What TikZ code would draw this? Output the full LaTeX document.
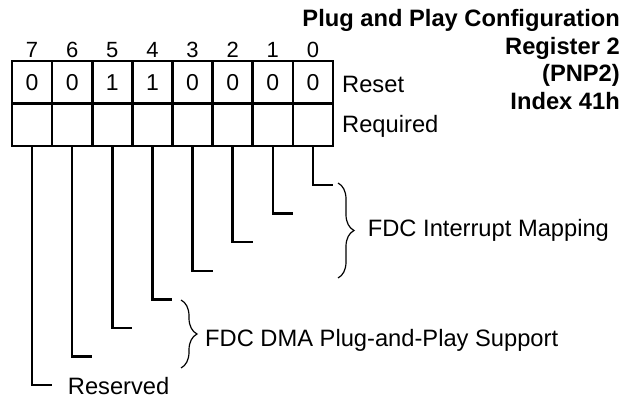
\documentclass[tikz,border=0pt]{standalone}
\usepackage{fontspec}
\setmainfont{Liberation Sans}
\usetikzlibrary{decorations.pathreplacing}
\begin{document}
\begin{tikzpicture}[x=1pt,y=1pt,
  cell/.style={draw, line width=2.7pt, minimum width=40.125pt, minimum height=42.5pt, inner sep=0pt, font=\fontsize{23}{26}\selectfont},
  lbl/.style={inner sep=0pt, anchor=base west, font=\fontsize{23.7}{28}\selectfont},
  ttl/.style={inner sep=0pt, anchor=base east, font=\fontsize{23.7}{28}\selectfont\bfseries},
  bitnum/.style={inner sep=0pt, anchor=base, font=\fontsize{22}{24}\selectfont},
  conn/.style={line width=2.4pt},
  brc/.style={decorate, decoration={brace, amplitude=16pt}, line width=1.2pt}
]
\useasboundingbox (0,0) rectangle (634,-398);
\foreach \i/\v in {7/0,6/0,5/1,4/1,3/0,2/0,1/0,0/0} {
  \pgfmathsetmacro\cx{12+40.125*(7-\i)+20.0625}
  \node[cell] (r\i) at (\cx,-82.25) {\v};
  \node[cell] (q\i) at (\cx,-124.75) {};
  \node[bitnum] (b\i) at (\cx,-57.3) {\i};
  \coordinate (h\i) at (\cx+20,-185-28.6*\i);
  \draw[conn] (q\i.south) |- (h\i);
}
\node[lbl] (reset) at (342,-93) {Reset};
\node[lbl] (req) at (342,-133) {Required};
\node[ttl] (t1) at (620,-26.7) {Plug and Play Configuration};
\node[ttl] (t2) at (620,-55) {Register 2};
\node[ttl] (t3) at (620,-81.7) {(PNP2)};
\node[ttl] (t4) at (620,-109.3) {Index 41h};
\coordinate (ia) at (338,-183);
\coordinate (ib) at (338,-278);
\draw[brc] (ia) -- (ib);
\node[lbl] (fim) at (367.7,-236.7) {FDC Interrupt Mapping};
\coordinate (da) at (181,-300);
\coordinate (db) at (181,-368);
\draw[brc] (da) -- (db);
\node[lbl] (fdma) at (205,-346) {FDC DMA Plug-and-Play Support};
\node[lbl] (res) at (67.7,-394) {Reserved};
\end{tikzpicture}
\end{document}
